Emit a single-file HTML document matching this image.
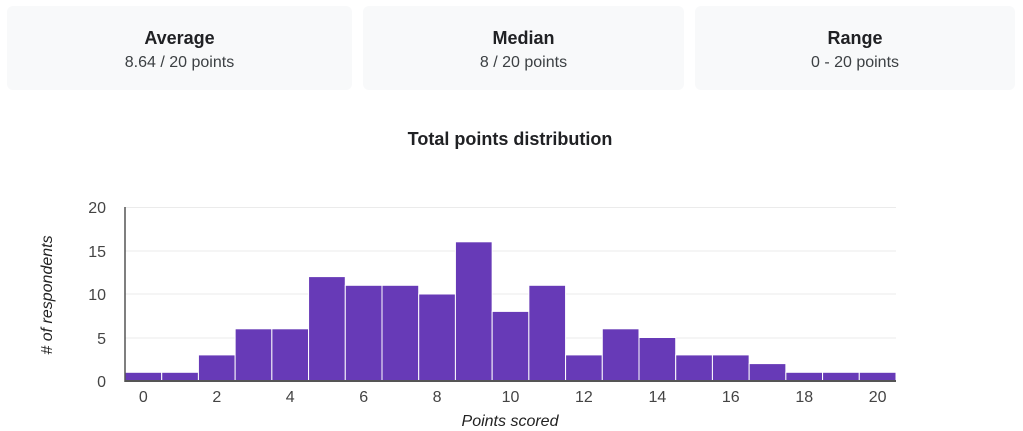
<!DOCTYPE html>
<html><head><style>
body{margin:0;width:1023px;height:431px;background:#fff;font-family:"Liberation Sans",Arial,sans-serif;position:relative;overflow:hidden}
.card{position:absolute;top:6px;height:84px;background:#f8f9fa;border-radius:6px;text-align:center;color:#202124}
.card b{display:block;margin-top:22px;font-size:18px;font-weight:bold}
.card span{display:block;margin-top:5px;font-size:16px;color:#3c4043}
</style></head><body>
<div class="card" style="left:7px;width:345px"><b>Average</b><span>8.64 / 20 points</span></div>
<div class="card" style="left:363px;width:321px"><b>Median</b><span>8 / 20 points</span></div>
<div class="card" style="left:695px;width:320px"><b>Range</b><span>0 - 20 points</span></div>
<svg width="1023" height="431" style="position:absolute;left:0;top:0" font-family="Liberation Sans,Arial,sans-serif">
<text x="510" y="145" text-anchor="middle" font-size="18" font-weight="bold" fill="#202124">Total points distribution</text>
<g stroke="#ebebeb" stroke-width="1">
<line x1="125" x2="896" y1="207.5" y2="207.5"/><line x1="125" x2="896" y1="251" y2="251"/>
<line x1="125" x2="896" y1="294" y2="294"/><line x1="125" x2="896" y1="338" y2="338"/>
</g>
<g font-size="16" fill="#444" text-anchor="end">
<text x="106" y="213">20</text><text x="106" y="257">15</text><text x="106" y="300">10</text><text x="106" y="344">5</text><text x="106" y="387">0</text>
</g>
<g id="bars" fill="#673ab7" stroke="#fff" stroke-width="1"></g>
<line x1="125" x2="896" y1="381" y2="381" stroke="#555" stroke-width="2"/>
<line x1="125" x2="125" y1="207" y2="382" stroke="#555" stroke-width="1.5"/>
<g font-size="16" fill="#444" text-anchor="middle" id="xl"></g>
<text x="510" y="426" text-anchor="middle" font-size="16" font-style="italic" fill="#222">Points scored</text>
<text transform="translate(52,295) rotate(-90)" text-anchor="middle" font-size="16" font-style="italic" fill="#222"># of respondents</text>
</svg>
<script>
var v=[1,1,3,6,6,12,11,11,10,16,8,11,3,6,5,3,3,2,1,1,1],w=771/21,s='',t='';
v.forEach(function(n,i){var h=n*8.7;s+='<rect x="'+(125+i*w)+'" y="'+(381-h)+'" width="'+w+'" height="'+h+'"/>';
if(i%2==0)t+='<text x="'+(125+i*w+w/2)+'" y="402">'+i+'</text>';});
document.getElementById('bars').innerHTML=s;document.getElementById('xl').innerHTML=t;
</script>
</body></html>
